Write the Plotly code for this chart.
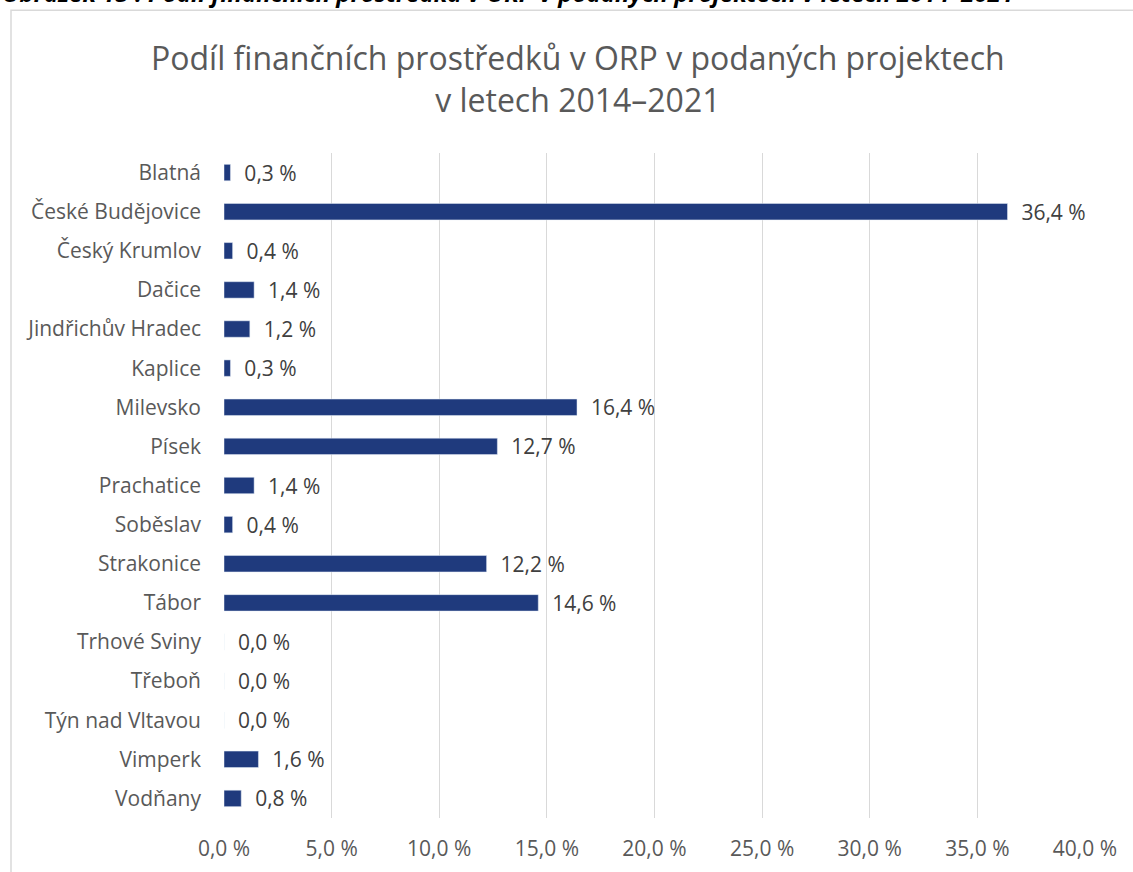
import plotly.graph_objects as go

# data
obce = ["Blatná", "České Budějovice", "Český Krumlov", "Dačice", "Jindřichův Hradec",
        "Kaplice", "Milevsko", "Písek", "Prachatice", "Soběslav", "Strakonice", "Tábor",
        "Trhové Sviny", "Třeboň", "Týn nad Vltavou", "Vimperk", "Vodňany"]
podil = [0.3, 36.4, 0.4, 1.4, 1.2, 0.3, 16.4, 12.7, 1.4, 0.4, 12.2, 14.6,
         0.0, 0.0, 0.0, 1.6, 0.8]
x_ticks = [0, 5, 10, 15, 20, 25, 30, 35, 40]


def pct(v):
    return f"{v:.1f} %".replace(".", ",")


labels = ["\u00a0\u00a0" + pct(v) for v in podil]
x_ticktext = [pct(v) for v in x_ticks]

FONT = "Open Sans, sans-serif"

fig = go.Figure(go.Bar(
    x=podil,
    y=obce,
    orientation="h",
    marker=dict(color="#1f3a7d"),
    text=labels,
    textposition="outside",
    constraintext="none",
    textfont=dict(size=21, color="#404040", family=FONT),
    cliponaxis=False,
))

fig.update_layout(
    width=1133, height=872,
    paper_bgcolor="white", plot_bgcolor="white",
    bargap=0.58,
    showlegend=False,
    margin=dict(l=224, r=48, t=153, b=54),
    font=dict(family=FONT, color="#595959"),
    title=dict(
        text="Podíl finančních prostředků v ORP v podaných projektech<br>v letech 2014–2021",
        x=0.51, xanchor="center", y=1 - 70 / 872, yanchor="middle",
        font=dict(size=32, color="#595959", family=FONT),
    ),
    xaxis=dict(
        range=[0, 40], tickvals=x_ticks, ticktext=x_ticktext,
        showgrid=True, gridcolor="#d9d9d9", gridwidth=1,
        zeroline=False, showline=False, ticks="",
        tickfont=dict(size=21, color="#595959"),
        ticklabelstandoff=16, automargin=False,
    ),
    yaxis=dict(
        autorange="reversed", showgrid=False, zeroline=False, showline=False,
        ticks="", tickfont=dict(size=21, color="#595959"),
        ticklabelstandoff=22, automargin=False,
    ),
    shapes=[dict(
        type="rect", xref="paper", yref="paper",
        x0=-213 / 861, x1=1.2, y0=-0.2, y1=1 + 142.5 / 664,
        line=dict(color="#d9d9d9", width=1.5), fillcolor="rgba(0,0,0,0)",
        layer="below",
    )],
    annotations=[dict(
        text="<b><i>Obrázek 15 : Podíl finančních prostředků v ORP v podaných projektech v letech 2014–2021</i></b>",
        xref="paper", yref="paper", x=-224 / 861, xanchor="left",
        y=1 + 160 / 664, yanchor="middle", showarrow=False,
        font=dict(size=24, color="black", family=FONT),
    )],
)

fig.write_html("out.html", config={"displayModeBar": False},
               post_script="document.body.style.margin='0';")
